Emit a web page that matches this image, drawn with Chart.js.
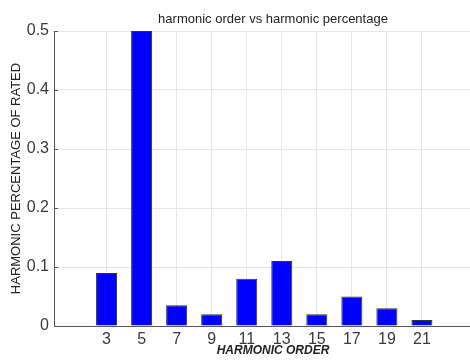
<!DOCTYPE html>
<html>
<head>
<meta charset="utf-8">
<script src="https://cdn.jsdelivr.net/npm/chart.js@4"></script>
<style>
  html, body { margin: 0; padding: 0; background: #fff; overflow: hidden; }
  #wrap { width: 492px; height: 361px; }
</style>
</head>
<body>
<div id="wrap"><canvas id="harmonicChart" width="492" height="361"></canvas></div>
<script>
// harmonic orders and their level, as a fraction of rated
const harmonicOrders = [3, 5, 7, 9, 11, 13, 15, 17, 19, 21];
const harmonicLevels = [0.09, 0.5, 0.035, 0.02, 0.08, 0.11, 0.02, 0.05, 0.03, 0.01];
const yTicks = [0, 0.1, 0.2, 0.3, 0.4, 0.5];

const FONT = "'Liberation Sans', Arial, Helvetica, sans-serif";

// small inward tick marks along the y axis
const innerTicks = {
    id: 'innerTicks',
    afterDatasetsDraw(chart) {
        const { ctx, scales: { x, y } } = chart;
        ctx.save();
        ctx.strokeStyle = '#555';
        ctx.lineWidth = 1;
        yTicks.forEach(v => {
            const py = Math.round(y.getPixelForValue(v)) + 0.5;
            ctx.beginPath();
            ctx.moveTo(x.left, py);
            ctx.lineTo(x.left + 4, py);
            ctx.stroke();
        });
        ctx.restore();
    }
};

const ctx = document.getElementById('harmonicChart').getContext('2d');
new Chart(ctx, {
    type: 'bar',
    data: {
        datasets: [{
            data: harmonicOrders.map((h, i) => ({ x: h, y: harmonicLevels[i] })),
            backgroundColor: '#0000ff',
            borderColor: '#333333',
            borderWidth: 1,
            barPercentage: 0.75,
            categoryPercentage: 0.8
        }]
    },
    options: {
        responsive: false,
        animation: false,
        devicePixelRatio: 1,
        layout: { padding: 0 },
        plugins: {
            legend: { display: false },
            tooltip: { enabled: false },
            title: {
                display: true,
                text: 'harmonic order vs harmonic percentage',
                fullSize: false,
                color: '#222',
                font: { family: FONT, size: 13, weight: 'normal' },
                padding: { top: 12, bottom: 3.4 }
            }
        },
        scales: {
            x: {
                type: 'linear',
                min: 0,
                max: 25,
                offset: false,
                afterBuildTicks: s => { s.ticks = harmonicOrders.map(v => ({ value: v })); },
                afterFit: s => { s.height = 35; },
                grid: { color: '#e6e6e6', drawTicks: false, offset: false },
                border: { color: '#555', width: 1 },
                ticks: {
                    color: '#3a3a3a',
                    padding: 4,
                    maxRotation: 0,
                    autoSkip: false,
                    font: { family: FONT, size: 16 }
                },
                title: {
                    display: true,
                    text: 'HARMONIC ORDER',
                    color: '#222',
                    font: { family: FONT, size: 12, weight: 'bold', style: 'italic' },
                    padding: { top: 0, bottom: 3 }
                }
            },
            y: {
                min: 0,
                max: 0.5,
                afterBuildTicks: s => { s.ticks = yTicks.map(v => ({ value: v })); },
                afterFit: s => { s.width = 54; },
                grid: { color: '#e6e6e6', drawTicks: false },
                border: { color: '#555', width: 1 },
                ticks: {
                    color: '#3a3a3a',
                    padding: 5,
                    font: { family: FONT, size: 16 },
                    callback: v => String(Math.round(v * 10) / 10)
                },
                title: {
                    display: true,
                    text: 'HARMONIC PERCENTAGE OF RATED',
                    color: '#222',
                    font: { family: FONT, size: 13, weight: 'normal' },
                    padding: { top: 9, bottom: 0 }
                }
            }
        }
    },
    plugins: [innerTicks]
});
</script>
</body>
</html>
